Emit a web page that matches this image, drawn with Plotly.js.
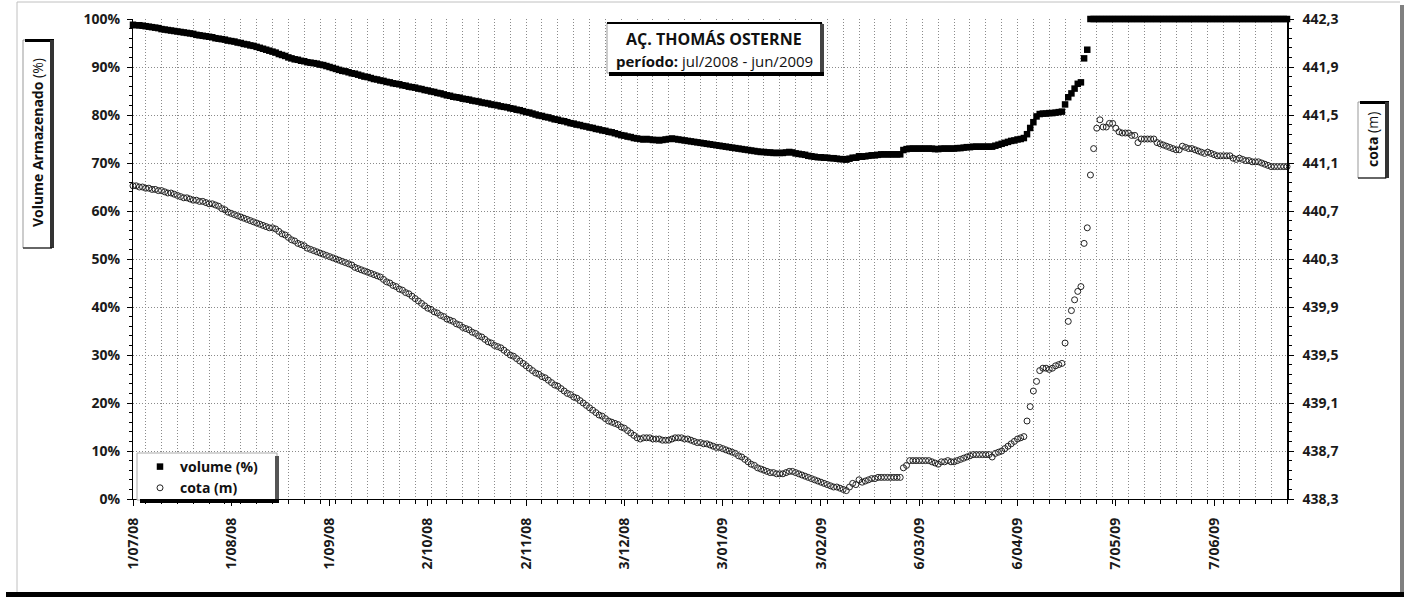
<!DOCTYPE html>
<html>
<head>
<meta charset="utf-8">
<script src="https://cdn.plot.ly/plotly-3.0.1.min.js"></script>
<style>html,body{margin:0;padding:0;background:#fff;}#chart{width:1423px;height:599px;}</style>
</head>
<body>
<div id="chart"></div>
<script>
// ---------- DATA (daily readings, 1/07/2008 .. 30/06/2009) ----------
const startDate = '2008-07-01';

const volume = [
  // jul/2008
  98.8,98.7,98.7,98.6,98.5,98.4,98.3,98.2,98.1,97.9,97.8,97.7,97.6,97.5,97.4,97.3,97.2,97.1,97.0,96.9,96.7,96.6,96.5,96.4,96.3,96.2,96.0,95.9,95.8,95.7,95.5,
  // aug
  95.4,95.3,95.1,95.0,94.8,94.7,94.5,94.4,94.2,94.0,93.8,93.6,93.4,93.2,93.0,92.7,92.5,92.3,92.0,91.8,91.6,91.5,91.3,91.2,91.0,90.9,90.8,90.7,90.5,90.4,90.2,
  // sep
  90.0,89.8,89.6,89.4,89.2,89.1,88.9,88.7,88.6,88.4,88.2,88.0,87.9,87.7,87.5,87.4,87.2,87.1,86.9,86.8,86.6,86.5,86.4,86.2,86.1,85.9,85.8,85.7,85.5,85.4,
  // oct
  85.2,85.1,84.9,84.8,84.6,84.5,84.3,84.1,84.0,83.8,83.7,83.6,83.4,83.3,83.2,83.0,82.9,82.8,82.6,82.5,82.4,82.2,82.1,82.0,81.8,81.7,81.6,81.4,81.3,81.1,81.0,
  // nov
  80.8,80.6,80.5,80.3,80.1,79.9,79.8,79.6,79.5,79.3,79.1,79.0,78.8,78.7,78.5,78.3,78.2,78.0,77.9,77.7,77.6,77.4,77.3,77.1,77.0,76.8,76.7,76.5,76.4,76.2,
  // dec
  76.0,75.8,75.7,75.5,75.4,75.2,75.1,75.0,74.9,75.0,74.9,74.8,74.8,74.7,74.8,74.9,75.0,75.1,75.0,74.9,74.8,74.7,74.6,74.5,74.4,74.3,74.2,74.1,74.0,73.9,73.8,
  // jan/2009
  73.7,73.6,73.5,73.4,73.3,73.2,73.1,73.0,72.9,72.8,72.7,72.6,72.5,72.4,72.3,72.3,72.2,72.2,72.1,72.1,72.1,72.1,72.2,72.3,72.2,72.0,71.9,71.8,71.7,71.5,71.4,
  // feb
  71.3,71.2,71.2,71.1,71.1,71.0,71.0,70.9,70.8,70.8,70.7,70.9,71.1,71.1,71.4,71.3,71.4,71.5,71.6,71.6,71.7,71.8,71.8,71.8,71.8,71.8,71.8,71.8,
  // mar
  72.7,72.9,73.0,73.0,73.0,73.0,73.0,73.0,73.0,73.0,72.9,72.9,73.0,73.0,73.0,73.0,73.0,73.1,73.1,73.2,73.3,73.3,73.4,73.4,73.4,73.4,73.4,73.4,73.4,73.6,73.8,
  // apr
  74.0,74.2,74.4,74.6,74.7,74.9,75.0,75.2,76.0,77.3,78.5,79.7,80.2,80.3,80.3,80.4,80.4,80.5,80.6,80.7,82.2,83.7,84.5,85.5,86.5,86.8,91.8,93.6,100,100,
  // may
  100,100,100,100,100,100,100,100,100,100,100,100,100,100,100,100,100,100,100,100,100,100,100,100,100,100,100,100,100,100,100,
  // jun
  100,100,100,100,100,100,100,100,100,100,100,100,100,100,100,100,100,100,100,100,100,100,100,100,100,100,100,100,100,100
];

const cota = [
  // jul/2008
  440.91,440.91,440.90,440.90,440.89,440.89,440.88,440.88,440.87,440.87,440.86,440.85,440.85,440.84,440.83,440.82,440.81,440.81,440.80,440.79,440.79,440.78,440.78,440.77,440.76,440.76,440.75,440.74,440.72,440.71,440.69,
  // aug
  440.68,440.67,440.66,440.65,440.64,440.63,440.62,440.61,440.60,440.59,440.58,440.57,440.56,440.56,440.55,440.53,440.51,440.50,440.48,440.46,440.45,440.43,440.42,440.41,440.39,440.38,440.37,440.36,440.35,440.34,440.33,
  // sep
  440.32,440.31,440.30,440.29,440.28,440.27,440.26,440.25,440.23,440.22,440.21,440.20,440.19,440.18,440.17,440.16,440.15,440.13,440.11,440.10,440.08,440.07,440.05,440.04,440.02,440.01,439.99,439.97,439.95,439.93,
  // oct
  439.91,439.89,439.88,439.86,439.85,439.83,439.82,439.80,439.79,439.78,439.76,439.75,439.73,439.72,439.71,439.69,439.68,439.66,439.65,439.63,439.61,439.60,439.58,439.57,439.56,439.54,439.52,439.50,439.49,439.47,439.45,
  // nov
  439.43,439.41,439.39,439.37,439.35,439.34,439.32,439.31,439.29,439.27,439.25,439.24,439.22,439.20,439.18,439.17,439.15,439.14,439.12,439.10,439.08,439.06,439.04,439.02,439.00,438.99,438.97,438.95,438.94,438.93,
  // dec
  438.92,438.90,438.89,438.87,438.85,438.83,438.81,438.80,438.81,438.81,438.81,438.80,438.80,438.80,438.79,438.79,438.79,438.80,438.81,438.81,438.81,438.80,438.80,438.79,438.78,438.77,438.77,438.76,438.76,438.75,438.74,
  // jan/2009
  438.73,438.73,438.72,438.71,438.70,438.69,438.68,438.66,438.65,438.63,438.61,438.59,438.58,438.56,438.55,438.54,438.53,438.52,438.52,438.51,438.51,438.51,438.52,438.53,438.53,438.52,438.51,438.50,438.49,438.48,438.47,
  // feb
  438.46,438.45,438.44,438.43,438.42,438.41,438.40,438.40,438.39,438.38,438.37,438.40,438.43,438.42,438.46,438.44,438.45,438.46,438.47,438.47,438.48,438.48,438.48,438.48,438.48,438.48,438.48,438.48,
  // mar
  438.56,438.58,438.62,438.62,438.62,438.62,438.62,438.62,438.62,438.61,438.60,438.59,438.61,438.61,438.62,438.61,438.61,438.62,438.63,438.64,438.65,438.66,438.67,438.67,438.67,438.67,438.67,438.67,438.65,438.68,438.69,
  // apr
  438.70,438.72,438.74,438.76,438.78,438.80,438.81,438.82,438.95,439.07,439.20,439.28,439.37,439.39,439.39,439.38,439.39,439.41,439.42,439.43,439.60,439.78,439.87,439.96,440.03,440.07,440.43,440.56,441.00,441.22,
  // may
  441.39,441.46,441.40,441.40,441.43,441.43,441.39,441.36,441.35,441.35,441.35,441.33,441.33,441.27,441.30,441.30,441.30,441.30,441.30,441.27,441.26,441.25,441.24,441.23,441.22,441.21,441.21,441.24,441.23,441.22,441.22,
  // jun
  441.21,441.20,441.19,441.18,441.19,441.18,441.17,441.16,441.16,441.16,441.16,441.16,441.14,441.13,441.14,441.13,441.12,441.12,441.11,441.11,441.11,441.10,441.09,441.08,441.07,441.07,441.07,441.07,441.07,441.07
];

const dateTicks = ['2008-07-01','2008-08-01','2008-09-01','2008-10-02','2008-11-02','2008-12-03',
                   '2009-01-03','2009-02-03','2009-03-06','2009-04-06','2009-05-07','2009-06-07'];
const dateTickLabels = ['1/07/08','1/08/08','1/09/08','2/10/08','2/11/08','3/12/08',
                        '3/01/09','3/02/09','6/03/09','6/04/09','7/05/09','7/06/09'];
const volumeTicks = [0,10,20,30,40,50,60,70,80,90,100];
const volumeTickLabels = ['0%','10%','20%','30%','40%','50%','60%','70%','80%','90%','100%'];
const cotaTicks = [438.3,438.7,439.1,439.5,439.9,440.3,440.7,441.1,441.5,441.9,442.3];
const cotaTickLabels = ['438,3','438,7','439,1','439,5','439,9','440,3','440,7','441,1','441,5','441,9','442,3'];

// ---------- build ----------
const dates = volume.map((_, i) => {
  const d = new Date(Date.UTC(2008, 6, 1 + i));
  return d.toISOString().slice(0, 10);
});
const bold = arr => arr.map(s => '<b>' + s + '</b>');

const FONT = 'Open Sans, Noto Sans, sans-serif';
const M = {l: 133, r: 136, t: 19, b: 100};
const W = 1423, H = 599;
const PW = W - M.l - M.r, PH = H - M.t - M.b;
const px = x => (x - M.l) / PW;
const py = y => (H - M.b - y) / PH;

function rect(x0, y0, x1, y1, fill, line, lw) {
  return {type: 'rect', xref: 'paper', yref: 'paper', layer: 'above',
    x0: px(x0), x1: px(x1), y0: py(y1), y1: py(y0),
    fillcolor: fill, line: {color: line || fill, width: lw === undefined ? 0 : lw}};
}
function hline(x0, x1, y, color, w) {
  return {type: 'line', xref: 'paper', yref: 'paper', layer: 'above',
    x0: px(x0), x1: px(x1), y0: py(y), y1: py(y), line: {color: color, width: w}};
}
function vline(x, y0, y1, color, w) {
  return {type: 'line', xref: 'paper', yref: 'paper', layer: 'above',
    x0: px(x), x1: px(x), y0: py(y0), y1: py(y1), line: {color: color, width: w}};
}

const shapes = [
  // outer chart frame
  vline(17, 2, 592, '#c0c0c0', 1),
  hline(17, 1400, 2, '#c0c0c0', 1),
  rect(1400, 5, 1404, 597, '#808080'),
  rect(6, 592, 1404, 597, '#000'),
  // title box
  rect(607, 23, 822, 73, '#fff', '#999', 1),
  rect(607, 22, 822, 24, '#000'),
  rect(820, 24, 824, 76, '#444'),
  rect(609, 72, 824, 76, '#000'),
  // legend box
  rect(137, 453, 277, 500, '#fff', '#aaa', 1),
  rect(275, 456, 279, 502, '#555'),
  rect(140, 499, 279, 503, '#000'),
  // left axis title box
  rect(23, 40, 52, 248, '#fff', '#999', 1),
  rect(25, 39, 54, 42, '#000'),
  rect(50, 40, 54, 248, '#333'),
  hline(23, 52, 248, '#000', 1),
  // right axis title box
  rect(1358, 102, 1387, 178, '#fff', '#999', 1),
  rect(1360, 101, 1389, 104, '#000'),
  rect(1385, 102, 1389, 178, '#333'),
  hline(1358, 1386, 178, '#000', 1)
];

const annotations = [
  {xref: 'paper', yref: 'paper', x: px(714), y: py(38.5), xanchor: 'center', yanchor: 'middle',
   showarrow: false, text: '<b>AÇ. THOMÁS OSTERNE</b>', font: {family: FONT, size: 16, color: '#111'}},
  {xref: 'paper', yref: 'paper', x: px(714), y: py(61), xanchor: 'center', yanchor: 'middle',
   showarrow: false, text: '<b>período:</b> jul/2008 - jun/2009', font: {family: FONT, size: 15, color: '#111'}},
  {xref: 'paper', yref: 'paper', x: px(37), y: py(143), xanchor: 'center', yanchor: 'middle',
   showarrow: false, textangle: -90, text: '<b>Volume Armazenado</b> (%)', font: {family: FONT, size: 14, color: '#111'}},
  {xref: 'paper', yref: 'paper', x: px(1372), y: py(140), xanchor: 'center', yanchor: 'middle',
   showarrow: false, textangle: -90, text: '<b>cota</b> (m)', font: {family: FONT, size: 14, color: '#111'}}
];

const tickFont = {family: FONT, size: 14, color: '#1a1a1a'};
const GRID = '#8a8a8a';
const GRIDDASH = '1px,2px';

const traces = [
  {x: dates, y: volume, type: 'scatter', mode: 'markers', name: 'volume (%)', yaxis: 'y',
   marker: {symbol: 'square', size: 6.5, color: '#000'}, cliponaxis: false, hoverinfo: 'skip'},
  {x: dates, y: cota, type: 'scatter', mode: 'markers', name: 'cota (m)', yaxis: 'y2',
   marker: {symbol: 'circle-open', size: 6, color: '#222', line: {width: 1, color: '#222'}},
   cliponaxis: false, hoverinfo: 'skip'}
];

const layout = {
  width: W, height: H,
  margin: M,
  paper_bgcolor: '#fff', plot_bgcolor: '#fff',
  font: {family: FONT, color: '#111'},
  showlegend: true,
  legend: {x: px(140), y: py(451), xanchor: 'left', yanchor: 'top',
    bgcolor: 'rgba(0,0,0,0)', borderwidth: 0, tracegroupgap: 0,
    font: {family: FONT, size: 14, color: '#111', weight: 'bold'}},
  xaxis: {
    type: 'date', range: ['2008-07-01', '2009-06-30'],
    tickmode: 'array', tickvals: dateTicks, ticktext: bold(dateTickLabels), tickangle: -90,
    tickfont: tickFont, ticks: 'outside', ticklen: 6, tickcolor: '#000', ticklabelstandoff: 6,
    showline: true, linecolor: '#000', linewidth: 1.2, showgrid: false, zeroline: false,
    minor: {tickmode: 'linear', tick0: '2008-07-05', dtick: 5 * 86400000, ticks: 'outside', ticklen: 4,
      tickcolor: '#000', showgrid: true, gridcolor: GRID, griddash: GRIDDASH, gridwidth: 1}
  },
  yaxis: {
    range: [0, 100], tickmode: 'array', tickvals: volumeTicks, ticktext: bold(volumeTickLabels),
    tickfont: tickFont, ticks: 'outside', ticklen: 5, tickcolor: '#000', ticklabelstandoff: 4,
    showline: true, linecolor: '#000', linewidth: 1, zeroline: false,
    showgrid: true, gridcolor: GRID, griddash: GRIDDASH, gridwidth: 1,
    minor: {dtick: 2, ticks: 'outside', ticklen: 3, tickcolor: '#000', showgrid: false}
  },
  yaxis2: {
    overlaying: 'y', side: 'right', range: [438.3, 442.3],
    tickmode: 'array', tickvals: cotaTicks, ticktext: bold(cotaTickLabels),
    tickfont: tickFont, ticks: 'outside', ticklen: 5, tickcolor: '#000', ticklabelstandoff: 6,
    showline: true, linecolor: '#000', linewidth: 1.8, zeroline: false, showgrid: false,
    minor: {tickmode: 'linear', tick0: 438.3, dtick: 0.08, ticks: 'outside', ticklen: 3, tickcolor: '#000', showgrid: false}
  },
  shapes: shapes,
  annotations: annotations
};

Plotly.newPlot('chart', traces, layout, {staticPlot: true, displayModeBar: false});
</script>
</body>
</html>
